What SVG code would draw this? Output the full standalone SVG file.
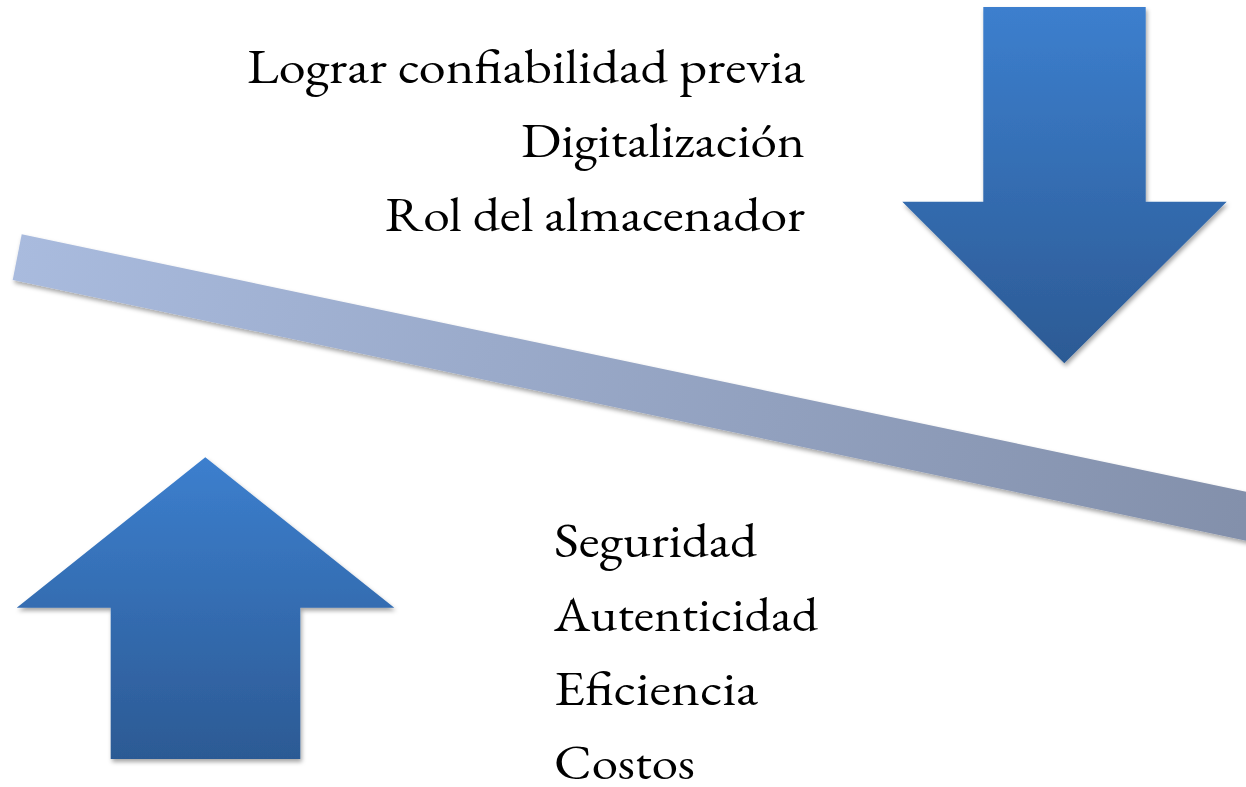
<svg xmlns="http://www.w3.org/2000/svg" width="1246" height="787" viewBox="0 0 1246 787">
  <defs>
    <linearGradient id="arrowGrad" x1="0" y1="0" x2="0" y2="1">
      <stop offset="0" stop-color="#3C7FCE"/>
      <stop offset="1" stop-color="#2C5A94"/>
    </linearGradient>
    <linearGradient id="barGrad" gradientUnits="userSpaceOnUse" x1="12" y1="250" x2="1246" y2="520">
      <stop offset="0" stop-color="#A9BBDE"/>
      <stop offset="1" stop-color="#8390AB"/>
    </linearGradient>
    <filter id="shadow" x="-10%" y="-10%" width="120%" height="130%">
      <feDropShadow dx="1.5" dy="3" stdDeviation="2" flood-color="#000" flood-opacity="0.35"/>
    </filter>
  </defs>
  <style>
    .lbl { font-family: "EB Garamond", Garamond, "Liberation Serif", "DejaVu Serif", serif; font-size: 48px; fill: #000; }
    .right { text-anchor: end; }
  </style>
  <rect width="1246" height="787" fill="#fff"/>

  <g id="bar">
    <polygon points="21.7,234.3 1262,495 1252,542 12.7,280" fill="url(#barGrad)" filter="url(#shadow)"/>
  </g>

  <g id="arrow-down">
    <polygon points="983.3,7 1145.7,7 1145.7,201.7 1226.7,201.7 1064.3,363.3 902.3,201.7 983.3,201.7" fill="url(#arrowGrad)" filter="url(#shadow)"/>
  </g>

  <g id="arrow-up">
    <polygon points="205.3,457.3 394.3,607.7 300.3,607.7 300.3,759 110.7,759 110.7,607.7 16.7,607.7" fill="url(#arrowGrad)" filter="url(#shadow)"/>
  </g>

  <g id="top-list">
    <text class="lbl right" x="805" y="83" textLength="558" lengthAdjust="spacingAndGlyphs">Lograr confiabilidad previa</text>
    <text class="lbl right" x="805" y="157" textLength="284" lengthAdjust="spacingAndGlyphs">Digitalización</text>
    <text class="lbl right" x="805" y="231" textLength="420" lengthAdjust="spacingAndGlyphs">Rol del almacenador</text>
  </g>

  <g id="bottom-list">
    <text class="lbl" x="554" y="557" textLength="203" lengthAdjust="spacingAndGlyphs">Seguridad</text>
    <text class="lbl" x="554" y="631" textLength="264" lengthAdjust="spacingAndGlyphs">Autenticidad</text>
    <text class="lbl" x="554" y="705" textLength="204" lengthAdjust="spacingAndGlyphs">Eficiencia</text>
    <text class="lbl" x="554" y="779" textLength="141" lengthAdjust="spacingAndGlyphs">Costos</text>
  </g>
</svg>
